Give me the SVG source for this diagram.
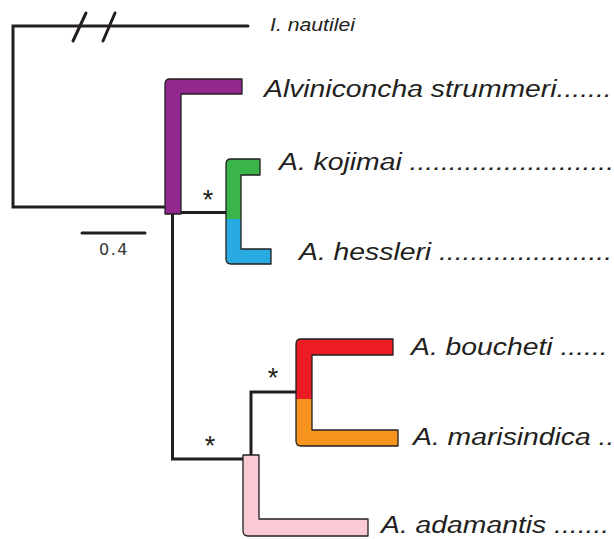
<svg xmlns="http://www.w3.org/2000/svg" width="614" height="539" viewBox="0 0 614 539">
  <style>
    .edge { fill: none; stroke: #231f20; stroke-width: 3; stroke-linecap: round; stroke-linejoin: miter; }
    .bar { stroke: #231f20; stroke-width: 1.3; stroke-linejoin: round; }
    .taxon { font-family: "Liberation Sans", Arial, sans-serif; font-style: italic; fill: #231f20; font-size: 24px; }
    .star { font-family: "Liberation Sans", Arial, sans-serif; fill: #231f20; font-size: 27px; text-anchor: middle; }
    .scale { font-family: "DejaVu Sans", Verdana, sans-serif; fill: #333; font-size: 16px; letter-spacing: 1.5px; text-anchor: middle; }
  </style>
  <defs>
    <linearGradient id="gGreenBlue" gradientUnits="userSpaceOnUse" x1="0" y1="159" x2="0" y2="264">
      <stop offset="0" stop-color="#39b54a"/>
      <stop offset="0.571" stop-color="#39b54a"/>
      <stop offset="0.571" stop-color="#29abe2"/>
      <stop offset="1" stop-color="#29abe2"/>
    </linearGradient>
    <linearGradient id="gRedOrange" gradientUnits="userSpaceOnUse" x1="0" y1="339" x2="0" y2="446">
      <stop offset="0" stop-color="#ed1c24"/>
      <stop offset="0.561" stop-color="#ed1c24"/>
      <stop offset="0.561" stop-color="#f7941d"/>
      <stop offset="1" stop-color="#f7941d"/>
    </linearGradient>
  </defs>

  <rect width="614" height="539" fill="#ffffff"/>

  <!-- tree branches -->
  <g id="connectors">
    <polyline class="edge" points="248,26 13,26 13,207 166,207"/>
    <line class="edge" x1="73" y1="41" x2="86" y2="13"/>
    <line class="edge" x1="103" y1="41" x2="115" y2="13"/>
    <polyline class="edge" points="172.5,214 172.5,459 243,459" style="stroke-linecap:butt"/>
    <line class="edge" x1="181" y1="212.5" x2="226" y2="212.5" style="stroke-linecap:butt"/>
    <polyline class="edge" points="296,392 251,392 251,455" style="stroke-linecap:butt"/>
  </g>

  <!-- scale bar -->
  <g id="scale-bar">
    <line class="edge" x1="82" y1="233" x2="145" y2="233"/>
    <text class="scale" x="114" y="255">0.4</text>
  </g>

  <g id="outgroup">
    <text class="taxon" transform="translate(270,31) scale(1.18,1)" style="font-size:18px">I. nautilei</text>
  </g>

  <g id="strummeri">
    <path class="bar" fill="#92278f" d="M242,79 H170 Q165,79 165,84 V214 H181 V94 H242 Z"/>
    <text class="taxon" transform="translate(264,97) scale(1.18,1)">Alviniconcha strummeri.......</text>
  </g>

  <g id="kojimai-hessleri">
    <path class="bar" fill="url(#gGreenBlue)" d="M260,159 H231 Q226,159 226,164 V259 Q226,264 231,264 H271 V249 H241 V175 H260 Z"/>
    <text class="star" x="208" y="209">*</text>
    <text class="taxon" transform="translate(279,170) scale(1.18,1)">A. kojimai ..........................</text>
    <text class="taxon" transform="translate(299,260) scale(1.18,1)">A. hessleri ......................</text>
  </g>

  <g id="boucheti-marisindica">
    <path class="bar" fill="url(#gRedOrange)" d="M393,339 H301 Q296,339 296,344 V441 Q296,446 301,446 H398 V430 H312 V355 H393 Z"/>
    <text class="star" x="273" y="387">*</text>
    <text class="taxon" transform="translate(411,355) scale(1.18,1)">A. boucheti ......</text>
    <text class="taxon" transform="translate(413,445) scale(1.18,1)">A. marisindica ..</text>
  </g>

  <g id="adamantis">
    <path class="bar" fill="#f9c9d4" d="M243,455 H259 V519 H368 V536 H248 Q243,536 243,531 Z"/>
    <text class="star" x="210" y="455">*</text>
    <text class="taxon" transform="translate(381,533) scale(1.18,1)">A. adamantis .......</text>
  </g>
</svg>
